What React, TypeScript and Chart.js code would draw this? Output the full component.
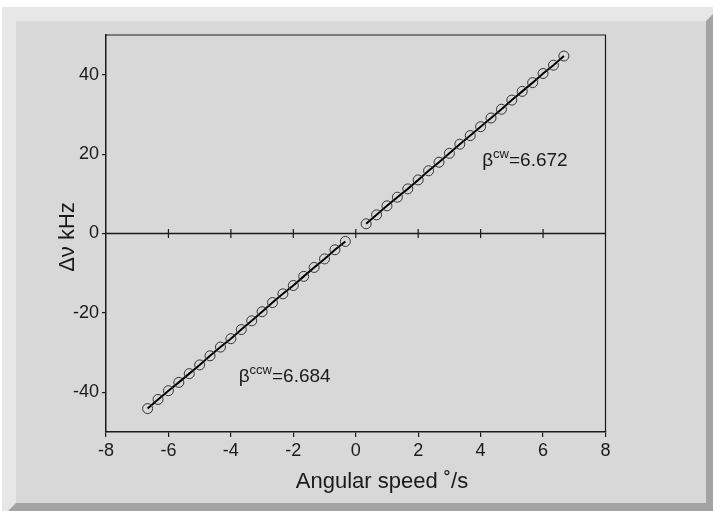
import React, { useEffect, useRef } from "react";
import { Chart, registerables } from "chart.js";

Chart.register(...registerables);

const cwX = [0.333, 0.667, 1.0, 1.333, 1.667, 2.0, 2.333, 2.667, 3.0, 3.333, 3.667, 4.0, 4.333, 4.667, 5.0, 5.333, 5.667, 6.0, 6.333, 6.667];
const cwY = [2.44, 4.7, 6.97, 9.15, 11.24, 13.5, 15.8, 17.95, 20.2, 22.5, 24.66, 26.9, 29.1, 31.3, 33.6, 35.8, 38.0, 40.3, 42.4, 44.7];
const ccwX = [-6.667, -6.333, -6.0, -5.667, -5.333, -5.0, -4.667, -4.333, -4.0, -3.667, -3.333, -3.0, -2.667, -2.333, -2.0, -1.667, -1.333, -1.0, -0.667, -0.333];
const ccwY = [-44.1, -41.8, -39.6, -37.5, -35.3, -33.1, -30.8, -28.6, -26.5, -24.2, -22.0, -19.7, -17.4, -15.2, -13.1, -10.8, -8.55, -6.4, -4.1, -2.0];
const xTicks = [-8, -6, -4, -2, 0, 2, 4, 6, 8];
const yTicks = [-40, -20, 0, 20, 40];
const xTitle = "Angular speed \u02DA/s";
const yTitle = "\u0394\u03BD kHz";
const cwLabel = { name: "cw", value: "6.672" };
const ccwLabel = { name: "ccw", value: "6.684" };

const FONT = "'Liberation Sans', Arial, sans-serif";

export default function App() {
  const ref = useRef<HTMLCanvasElement | null>(null);
  useEffect(() => {
    const canvas = ref.current;
    if (!canvas) return;
    const decor = {
      id: "decor",
      afterDatasetsDraw(chart: any) {
        const ctx = chart.ctx;
        const a = chart.chartArea;
        const xs = chart.scales.x;
        const ys = chart.scales.y;
        ctx.save();
        // box
        ctx.strokeStyle = "#1a1a1a";
        ctx.lineWidth = 1.2;
        ctx.beginPath();
        ctx.moveTo(a.left, a.top);
        ctx.lineTo(a.right, a.top);
        ctx.lineTo(a.right, a.bottom);
        ctx.stroke();
        // zero line
        const y0 = ys.getPixelForValue(0);
        ctx.lineWidth = 1.5;
        ctx.beginPath();
        ctx.moveTo(a.left, y0);
        ctx.lineTo(a.right, y0);
        ctx.stroke();
        ctx.lineWidth = 1.2;
        ctx.beginPath();
        xTicks.forEach((v) => {
          if (v === xTicks[0] || v === xTicks[xTicks.length - 1]) return;
          const px = xs.getPixelForValue(v);
          ctx.moveTo(px, y0 - 4.5);
          ctx.lineTo(px, y0 + 4.5);
        });
        ctx.stroke();
        // annotations
        const drawBeta = (name: string, value: string, vx: number, vy: number) => {
          let px = xs.getPixelForValue(vx);
          const py = ys.getPixelForValue(vy);
          ctx.fillStyle = "#1a1a1a";
          ctx.textBaseline = "alphabetic";
          ctx.textAlign = "left";
          ctx.font = `19px ${FONT}`;
          ctx.fillText("\u03B2", px, py);
          px += ctx.measureText("\u03B2").width;
          ctx.font = `13px ${FONT}`;
          ctx.fillText(name, px, py - 8);
          px += ctx.measureText(name).width;
          ctx.font = `19px ${FONT}`;
          ctx.fillText("=" + value, px, py);
        };
        drawBeta(cwLabel.name, cwLabel.value, 4.05, 17.0);
        drawBeta(ccwLabel.name, ccwLabel.value, -3.75, -37.4);
        // axis titles
        ctx.fillStyle = "#1a1a1a";
        ctx.font = `22px ${FONT}`;
        ctx.textAlign = "center";
        ctx.textBaseline = "alphabetic";
        ctx.fillText(xTitle, 382, 488);
        ctx.translate(73.5, 237);
        ctx.rotate(-Math.PI / 2);
        ctx.fillText(yTitle, 0, 0);
        ctx.restore();
      },
    };
    const chart = new Chart(canvas, {
      type: "scatter",
      data: {
        datasets: [
          {
            data: ccwX.map((x, i) => ({ x, y: ccwY[i] })),
            showLine: true,
            borderColor: "#000",
            borderWidth: 2,
            pointRadius: 5,
            pointBorderColor: "#333",
            pointBackgroundColor: "rgba(0,0,0,0)",
            pointBorderWidth: 1,
          },
          {
            data: cwX.map((x, i) => ({ x, y: cwY[i] })),
            showLine: true,
            borderColor: "#000",
            borderWidth: 2,
            pointRadius: 5,
            pointBorderColor: "#333",
            pointBackgroundColor: "rgba(0,0,0,0)",
            pointBorderWidth: 1,
          },
        ],
      },
      options: {
        animation: false,
        responsive: false,
        events: [],
        layout: { padding: { left: 0, top: 35, right: 713 - 605.5, bottom: 0 } },
        plugins: { legend: { display: false }, tooltip: { enabled: false } },
        scales: {
          x: {
            type: "linear",
            min: -8,
            max: 8,
            afterBuildTicks: (s: any) => {
              s.ticks = xTicks.map((v) => ({ value: v }));
            },
            afterFit: (s: any) => {
              s.height = 511 - 432;
            },
            grid: { display: true, drawOnChartArea: false, drawTicks: true, tickLength: 5, color: "#1a1a1a", lineWidth: 1.2 },
            border: { display: true, color: "#1a1a1a", width: 1.5 },
            ticks: { color: "#1a1a1a", font: { family: FONT, size: 18 }, padding: 3, maxRotation: 0 },
          },
          y: {
            type: "linear",
            min: -50,
            max: 50,
            afterBuildTicks: (s: any) => {
              s.ticks = yTicks.map((v) => ({ value: v }));
            },
            afterFit: (s: any) => {
              s.width = 106;
            },
            grid: { display: true, drawOnChartArea: false, drawTicks: true, tickLength: 4, color: "#1a1a1a", lineWidth: 1.2 },
            border: { display: true, color: "#1a1a1a", width: 1.5 },
            ticks: { color: "#1a1a1a", font: { family: FONT, size: 18 }, padding: 3 },
          },
        },
      },
      plugins: [decor],
    } as any);
    return () => chart.destroy();
  }, []);
  return (
    <div>
      <div
        style={{
          position: "fixed",
          left: 2,
          top: 7,
          width: 718,
          height: 510,
          boxSizing: "border-box",
          background: "#d8d8d8",
          borderTop: "14px solid #e7e7e7",
          borderLeft: "14px solid #e7e7e7",
          borderRight: "14px solid #a3a3a3",
          borderBottom: "14px solid #a3a3a3",
        }}
      />
      <canvas
        ref={ref}
        width={713}
        height={511}
        style={{ position: "fixed", left: 0, top: 0, width: 713, height: 511 }}
      />
    </div>
  );
}
